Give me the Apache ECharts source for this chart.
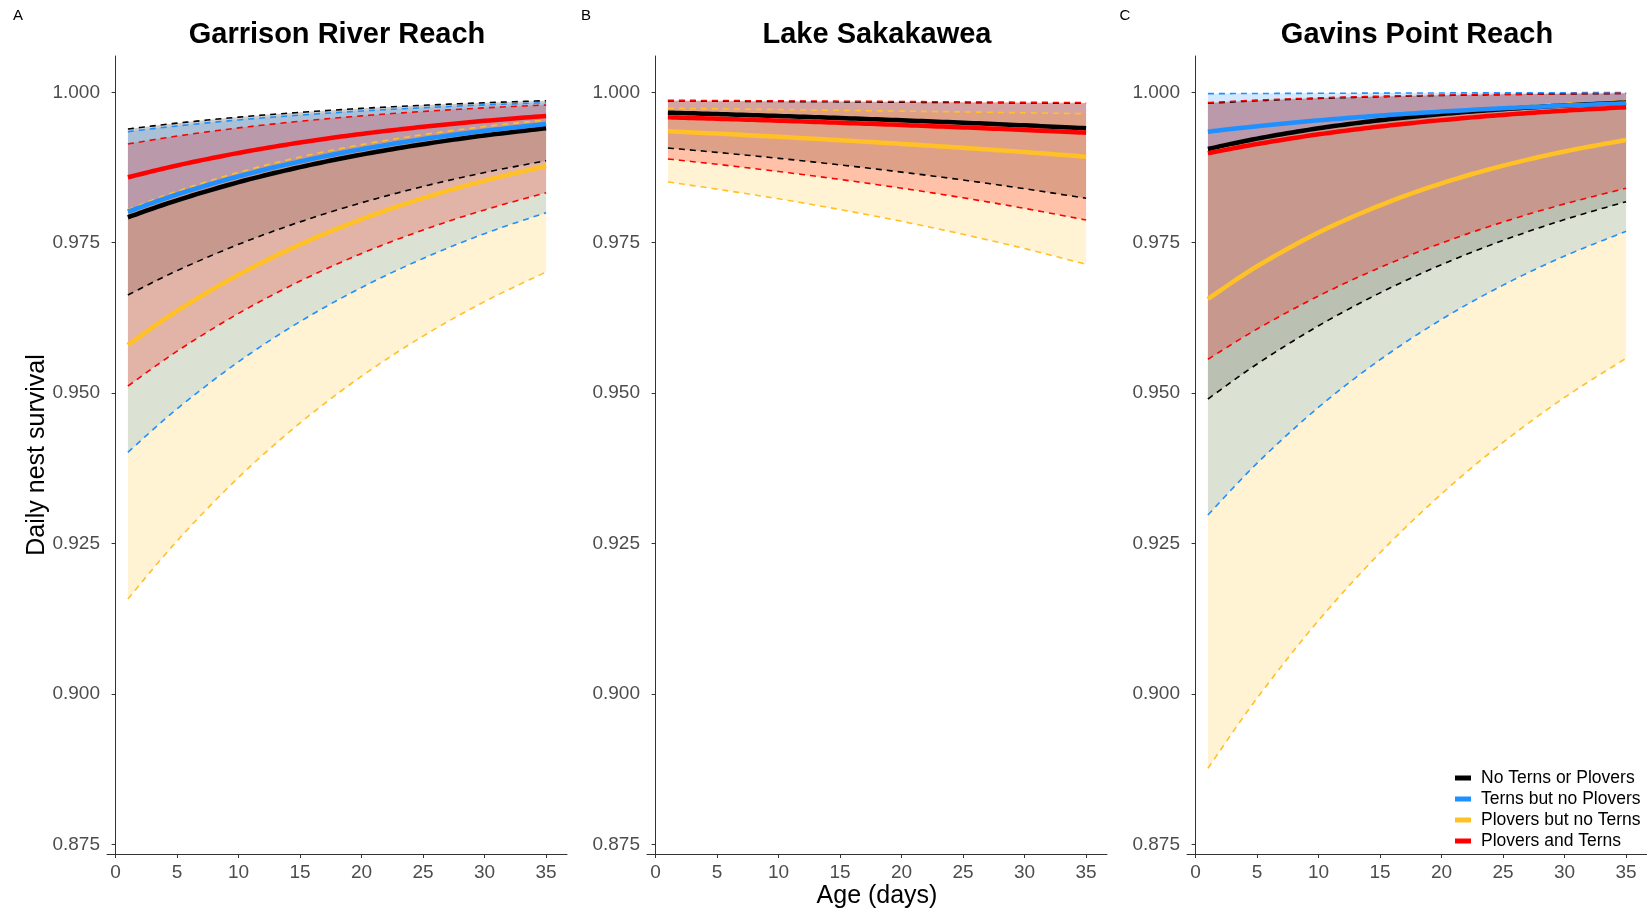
<!DOCTYPE html>
<html>
<head>
<meta charset="utf-8">
<script src="https://cdn.jsdelivr.net/npm/echarts@6/dist/echarts.min.js"></script>
<style>
  html, body { margin: 0; padding: 0; background: #fff; }
  #chart-container { width: 1647px; height: 909px; }
</style>
</head>
<body>
<div id="chart-container"></div>
<script>
// nest age (days) at which the curves were read
const ages = [1, 5, 10, 15, 20, 25, 30, 35];
const xTicks = [0, 5, 10, 15, 20, 25, 30, 35];
const yTicks = [0.875, 0.9, 0.925, 0.95, 0.975, 1.0];

const groups = ["No Terns or Plovers", "Terns but no Plovers", "Plovers but no Terns", "Plovers and Terns"];
const colors = ["#000000", "#1E90FF", "#FFC125", "#FF0000"];
const panelTitles = ["Garrison River Reach", "Lake Sakakawea", "Gavins Point Reach"];

// A - Garrison River Reach
const garNoneMean = [0.97922, 0.98205, 0.98506, 0.98756, 0.98964, 0.99137, 0.99282, 0.99402];
const garNoneLow = [0.96631, 0.97035, 0.97473, 0.97846, 0.98164, 0.98435, 0.98666, 0.98863];
const garNoneHigh = [0.9939, 0.99487, 0.99587, 0.99667, 0.99732, 0.99784, 0.99826, 0.9986];
const garTernsMean = [0.98015, 0.98302, 0.98603, 0.9885, 0.99054, 0.99222, 0.99359, 0.99473];
const garTernsLow = [0.94016, 0.94739, 0.95522, 0.96189, 0.96755, 0.97238, 0.9765, 0.97999];
const garTernsHigh = [0.99345, 0.9944, 0.9954, 0.99621, 0.99689, 0.99744, 0.9979, 0.99827];
const garPloversMean = [0.958, 0.96367, 0.96969, 0.97471, 0.9789, 0.9824, 0.98532, 0.98775];
const garPloversLow = [0.91578, 0.92545, 0.93599, 0.94504, 0.95281, 0.95948, 0.96521, 0.97013];
const garPloversHigh = [0.9805, 0.98355, 0.98669, 0.98924, 0.9913, 0.99296, 0.99431, 0.9954];
const garBothMean = [0.98587, 0.98784, 0.98992, 0.99165, 0.99308, 0.99426, 0.99525, 0.99606];
const garBothLow = [0.95118, 0.95697, 0.96325, 0.96862, 0.9732, 0.97711, 0.98045, 0.98331];
const garBothHigh = [0.99141, 0.99272, 0.99408, 0.99518, 0.99608, 0.99681, 0.99741, 0.99789];

// B - Lake Sakakawea (no tern-only nests)
const sakNoneMean = [0.99661, 0.99638, 0.99606, 0.99572, 0.99534, 0.99494, 0.9945, 0.99402];
const sakNoneLow = [0.99074, 0.99001, 0.98902, 0.98793, 0.98673, 0.98542, 0.98397, 0.98238];
const sakNoneHigh = [0.99856, 0.99852, 0.99846, 0.99841, 0.99835, 0.99829, 0.99823, 0.99816];
const sakPloversMean = [0.99352, 0.99313, 0.9926, 0.99203, 0.99142, 0.99077, 0.99006, 0.9893];
const sakPloversLow = [0.98509, 0.9839, 0.98229, 0.98051, 0.97855, 0.97639, 0.97402, 0.97141];
const sakPloversHigh = [0.99734, 0.99725, 0.99713, 0.997, 0.99687, 0.99673, 0.99659, 0.99644];
const sakBothMean = [0.99584, 0.9956, 0.99528, 0.99493, 0.99456, 0.99416, 0.99374, 0.99328];
const sakBothLow = [0.98891, 0.98803, 0.98683, 0.98551, 0.98406, 0.98246, 0.9807, 0.97877];
const sakBothHigh = [0.99867, 0.99863, 0.99857, 0.99852, 0.99846, 0.9984, 0.99834, 0.99827];

// C - Gavins Point Reach
const gavNoneMean = [0.99058, 0.9923, 0.99401, 0.99535, 0.99638, 0.99719, 0.99781, 0.9983];
const gavNoneLow = [0.94902, 0.95484, 0.96119, 0.96666, 0.97135, 0.97538, 0.97884, 0.98182];
const gavNoneHigh = [0.99817, 0.99859, 0.99898, 0.99926, 0.99947, 0.99962, 0.99972, 0.9998];
const gavTernsMean = [0.99345, 0.99436, 0.99533, 0.99613, 0.99679, 0.99734, 0.99779, 0.99817];
const gavTernsLow = [0.92974, 0.93835, 0.94766, 0.95555, 0.96226, 0.96795, 0.97278, 0.97689];
const gavTernsHigh = [0.99977, 0.9998, 0.99983, 0.99986, 0.99989, 0.99991, 0.99993, 0.99995];
const gavPloversMean = [0.96564, 0.97108, 0.97669, 0.98121, 0.98486, 0.9878, 0.99016, 0.99207];
const gavPloversLow = [0.88763, 0.8993, 0.91222, 0.92346, 0.93326, 0.94181, 0.94928, 0.95578];
const gavPloversHigh = [0.9901, 0.99215, 0.99411, 0.99559, 0.9967, 0.99754, 0.99815, 0.99862];
const gavBothMean = [0.98986, 0.9914, 0.99301, 0.99431, 0.99537, 0.99624, 0.99694, 0.99751];
const gavBothLow = [0.95562, 0.96065, 0.96615, 0.97087, 0.97494, 0.97844, 0.98145, 0.98404];
const gavBothHigh = [0.99828, 0.99869, 0.99907, 0.99934, 0.99953, 0.99966, 0.99976, 0.99983];

const FONT = "'Liberation Sans', Arial, sans-serif";

let dom = document.getElementById("chart-container");
let myChart = echarts.init(dom, null, { renderer: "canvas" });

function hexToRgba(hex, a) {
    const n = parseInt(hex.slice(1), 16);
    return "rgba(" + (n >> 16) + "," + ((n >> 8) & 255) + "," + (n & 255) + "," + a + ")";
}

// catmull-rom through pixel points so the curves bend like the original
function spline(pts) {
    const out = [];
    const steps = 12;
    for (let i = 0; i < pts.length - 1; i++) {
        const p0 = pts[Math.max(i - 1, 0)], p1 = pts[i], p2 = pts[i + 1], p3 = pts[Math.min(i + 2, pts.length - 1)];
        for (let s = 0; s < steps; s++) {
            const t = s / steps, t2 = t * t, t3 = t2 * t;
            out.push([0, 1].map((k) => 0.5 * (2 * p1[k] + (-p0[k] + p2[k]) * t +
                (2 * p0[k] - 5 * p1[k] + 4 * p2[k] - p3[k]) * t2 +
                (-p0[k] + 3 * p1[k] - 3 * p2[k] + p3[k]) * t3)));
        }
    }
    out.push(pts[pts.length - 1]);
    return out;
}

// read every row of the series back through the axis scales
function curvePoints(params, api, dim) {
    const pts = [];
    for (let j = 0; j < params.dataInsideLength; j++) {
        pts.push(api.coord([api.value(0, j), api.value(dim, j)]));
    }
    return spline(pts);
}

let series = [];

function addGroup(panel, g, mean, low, high) {
    const color = colors[g];
    // ribbon
    series.push({
        type: "custom", xAxisIndex: panel, yAxisIndex: panel, silent: true, z: 1,
        data: ages.map((x, i) => [x, low[i], high[i]]),
        encode: { x: 0, y: [1, 2] },
        renderItem: (params, api) => {
            if (params.dataIndexInside !== 0) return null;
            const lo = curvePoints(params, api, 1);
            const hi = curvePoints(params, api, 2);
            return {
                type: "polygon",
                shape: { points: hi.concat(lo.reverse()) },
                style: { fill: hexToRgba(color, 0.2), stroke: null },
            };
        },
    });
    // dashed bounds
    [low, high].forEach((b) => {
        series.push(lineSeries(panel, color, b, 2, 1.6, [6, 5], null));
    });
    // mean
    series.push(lineSeries(panel, color, mean, 3, 4.5, null, groups[g]));
}

function lineSeries(panel, color, vals, z, width, dash, name) {
    const s = {
        type: "custom", xAxisIndex: panel, yAxisIndex: panel, silent: true, z: z,
        data: ages.map((x, i) => [x, vals[i]]),
        encode: { x: 0, y: 1 },
        itemStyle: { color: color },
        renderItem: (params, api) => {
            if (params.dataIndexInside !== 0) return null;
            return {
                type: "polyline",
                shape: { points: curvePoints(params, api, 1) },
                style: { stroke: color, lineWidth: width, lineDash: dash, fill: null, lineJoin: "round" },
            };
        },
    };
    if (name) s.name = name;
    return s;
}

addGroup(0, 0, garNoneMean, garNoneLow, garNoneHigh);
addGroup(0, 1, garTernsMean, garTernsLow, garTernsHigh);
addGroup(0, 2, garPloversMean, garPloversLow, garPloversHigh);
addGroup(0, 3, garBothMean, garBothLow, garBothHigh);

addGroup(1, 0, sakNoneMean, sakNoneLow, sakNoneHigh);
addGroup(1, 2, sakPloversMean, sakPloversLow, sakPloversHigh);
addGroup(1, 3, sakBothMean, sakBothLow, sakBothHigh);

addGroup(2, 0, gavNoneMean, gavNoneLow, gavNoneHigh);
addGroup(2, 1, gavTernsMean, gavTernsLow, gavTernsHigh);
addGroup(2, 2, gavPloversMean, gavPloversLow, gavPloversHigh);
addGroup(2, 3, gavBothMean, gavBothLow, gavBothHigh);

const gridLefts = [107, 647, 1187];

let grids = gridLefts.map((l) => ({ left: l, top: 56, width: 460, height: 798 }));

let xAxes = gridLefts.map((l, i) => ({
    type: "value", gridIndex: i, min: -0.7, max: 36.7,
    splitLine: { show: false },
    axisLine: { lineStyle: { color: "#333", width: 1 } },
    axisTick: { customValues: xTicks, length: 4, lineStyle: { color: "#333" } },
    axisLabel: { customValues: xTicks, margin: 9, color: "#4D4D4D", fontSize: 19, fontFamily: FONT },
}));

let yAxes = gridLefts.map((l, i) => ({
    type: "value", gridIndex: i, min: 0.87339, max: 1.00603,
    splitLine: { show: false },
    axisLine: { show: true, lineStyle: { color: "#333", width: 1 } },
    axisTick: { show: true, customValues: yTicks, length: 4, lineStyle: { color: "#333" } },
    axisLabel: {
        customValues: yTicks, margin: 7, color: "#4D4D4D", fontSize: 19, fontFamily: FONT,
        formatter: (v) => v.toFixed(3),
    },
}));

function label(text, x, y, font, rotation) {
    return {
        type: "text", x: x, y: y, rotation: rotation || 0,
        style: { text: text, font: font, fill: "#000", align: "center", verticalAlign: "middle", textAlign: "center", textVerticalAlign: "middle" },
    };
}

let texts = [];
panelTitles.forEach((t, i) => texts.push(label(t, gridLefts[i] + 230, 35, "bold 29px " + FONT)));
texts.push(label("A", 18, 16, "15px " + FONT));
texts.push(label("B", 586, 16, "15px " + FONT));
texts.push(label("C", 1125, 16, "15px " + FONT));
texts.push(label("Age (days)", 877, 896, "25px " + FONT));
texts.push(label("Daily nest survival", 37, 455, "25px " + FONT, Math.PI / 2));

let option = {
    animation: false,
    backgroundColor: "#fff",
    grid: grids,
    xAxis: xAxes,
    yAxis: yAxes,
    legend: {
        orient: "vertical", left: 1450, top: 764,
        itemWidth: 16, itemHeight: 5, itemGap: 3, icon: "rect",
        selectedMode: false,
        textStyle: { fontSize: 17.5, color: "#000", fontFamily: FONT, lineHeight: 16, padding: [0, 0, 0, 5] },
        data: groups.map((n, i) => ({ name: n, itemStyle: { color: colors[i] } })),
    },
    graphic: texts,
    series: series,
};

if (option && typeof option === "object") {
    myChart.setOption(option);
}

window.addEventListener("resize", myChart.resize);
</script>
</body>
</html>
